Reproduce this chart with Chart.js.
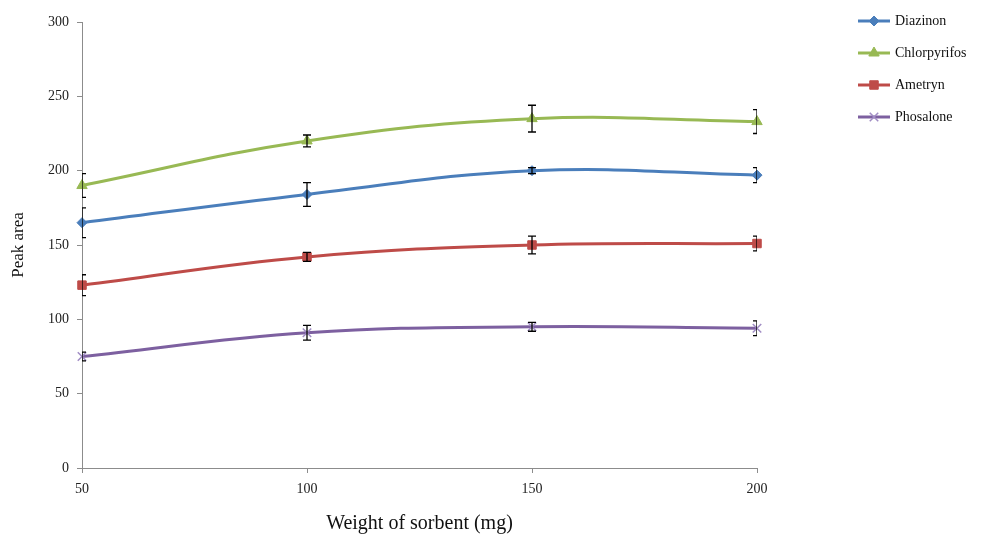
<!DOCTYPE html>
<html>
<head>
<meta charset="utf-8">
<script src="https://cdn.jsdelivr.net/npm/chart.js@4"></script>
<style>
  html, body { margin: 0; padding: 0; background: #fff; }
  #wrap { width: 983px; height: 536px; }
</style>
</head>
<body>
<div id="wrap"><canvas id="chart" width="983" height="536"></canvas></div>
<script>
// Datos del gráfico
const weights = [50, 100, 150, 200];
const xTicks = [50, 100, 150, 200];
const yTicks = [0, 50, 100, 150, 200, 250, 300];

const seriesNames = ['Diazinon', 'Chlorpyrifos', 'Ametryn', 'Phosalone'];
const diazinon = [165, 184, 200, 197];
const chlorpyrifos = [190, 220, 235, 233];
const ametryn = [123, 142, 150, 151];
const phosalone = [75, 91, 95, 94];

// Barras de error (desviación)
const diazinonErr = [10, 8, 2, 5];
const chlorpyrifosErr = [8, 4, 9, 8];
const ametrynErr = [7, 3, 6, 5];
const phosaloneErr = [3, 5, 3, 5];

const colors = ['#4a7ebb', '#98b954', '#be4b48', '#7d60a0'];
const markers = ['rectRot', 'triangle', 'rect', 'crossRot'];
const markerSizes = [5, 6, 6, 6];
const values = [diazinon, chlorpyrifos, ametryn, phosalone];
const errors = [diazinonErr, chlorpyrifosErr, ametrynErr, phosaloneErr];

const serif = '"Liberation Serif", "Times New Roman", serif';

const datasets = seriesNames.map((name, i) => ({
    label: name,
    data: weights.map((w, j) => ({ x: w, y: values[i][j] })),
    errors: errors[i],
    borderColor: colors[i],
    backgroundColor: colors[i],
    borderWidth: 3,
    pointStyle: markers[i],
    pointRadius: markerSizes[i],
    pointBorderWidth: markers[i] === 'crossRot' ? 1.5 : 1,
    pointBorderColor: markers[i] === 'crossRot' ? '#a08cc4' : colors[i],
    tension: 0.4,
    clip: false
}));

// Barras de error
const errorBars = {
    id: 'errorBars',
    afterDatasetsDraw(chart) {
        const { ctx, chartArea, scales } = chart;
        ctx.save();
        ctx.beginPath();
        ctx.rect(chartArea.left, chartArea.top - 20, chartArea.right - chartArea.left, chartArea.bottom - chartArea.top + 20);
        ctx.clip();
        ctx.strokeStyle = '#000';
        ctx.lineWidth = 1.3;
        chart.data.datasets.forEach(ds => {
            ds.data.forEach((p, j) => {
                const e = ds.errors[j];
                const x = scales.x.getPixelForValue(p.x);
                const y1 = scales.y.getPixelForValue(p.y + e);
                const y2 = scales.y.getPixelForValue(p.y - e);
                ctx.beginPath();
                ctx.moveTo(x, y1); ctx.lineTo(x, y2);
                ctx.moveTo(x - 4, y1); ctx.lineTo(x + 4, y1);
                ctx.moveTo(x - 4, y2); ctx.lineTo(x + 4, y2);
                ctx.stroke();
            });
        });
        ctx.restore();
    }
};

// Leyenda a la derecha
const sideLegend = {
    id: 'sideLegend',
    afterDraw(chart) {
        const { ctx } = chart;
        const x0 = 858, rows = [21, 53, 85, 117];
        chart.data.datasets.forEach((ds, i) => {
            const y = rows[i];
            ctx.save();
            ctx.strokeStyle = ds.borderColor;
            ctx.lineWidth = 3;
            ctx.beginPath();
            ctx.moveTo(x0, y); ctx.lineTo(x0 + 32, y);
            ctx.stroke();
            ctx.fillStyle = ds.backgroundColor;
            ctx.strokeStyle = ds.pointBorderColor;
            ctx.lineWidth = ds.pointBorderWidth;
            Chart.helpers.drawPoint(ctx, {
                pointStyle: ds.pointStyle,
                radius: ds.pointRadius,
                borderWidth: ds.pointBorderWidth
            }, x0 + 16, y);
            ctx.fillStyle = '#111';
            ctx.font = '14px ' + serif;
            ctx.textBaseline = 'middle';
            ctx.fillText(ds.label, x0 + 37, y);
            ctx.restore();
        });
    }
};

new Chart(document.getElementById('chart'), {
    type: 'line',
    data: { datasets },
    plugins: [errorBars, sideLegend],
    options: {
        responsive: false,
        animation: false,
        layout: { padding: { top: 22, right: 226, left: 0, bottom: 0 } },
        plugins: {
            legend: { display: false },
            tooltip: { enabled: false }
        },
        scales: {
            x: {
                type: 'linear',
                min: 50,
                max: 200,
                afterBuildTicks: axis => { axis.ticks = xTicks.map(v => ({ value: v })); },
                afterFit: axis => { axis.height = 68; },
                grid: { drawOnChartArea: false, drawTicks: true, tickLength: 5, color: '#8c8c8c' },
                border: { color: '#8c8c8c', width: 1 },
                ticks: { color: '#222', font: { family: serif, size: 14 }, padding: 8, maxRotation: 0 },
                title: { display: true, text: 'Weight of sorbent (mg)', color: '#111', font: { family: serif, size: 20 }, padding: { top: 6, bottom: 0 } }
            },
            y: {
                min: 0,
                max: 300,
                afterBuildTicks: axis => { axis.ticks = yTicks.map(v => ({ value: v })); },
                afterFit: axis => { axis.width = 82; },
                grid: { drawOnChartArea: false, drawTicks: true, tickLength: 5, color: '#8c8c8c' },
                border: { color: '#8c8c8c', width: 1 },
                ticks: { color: '#222', font: { family: serif, size: 14 }, padding: 8 },
                title: { display: true, text: 'Peak area', color: '#111', font: { family: serif, size: 17 }, padding: { top: 8, bottom: 4 } }
            }
        }
    }
});
</script>
</body>
</html>
